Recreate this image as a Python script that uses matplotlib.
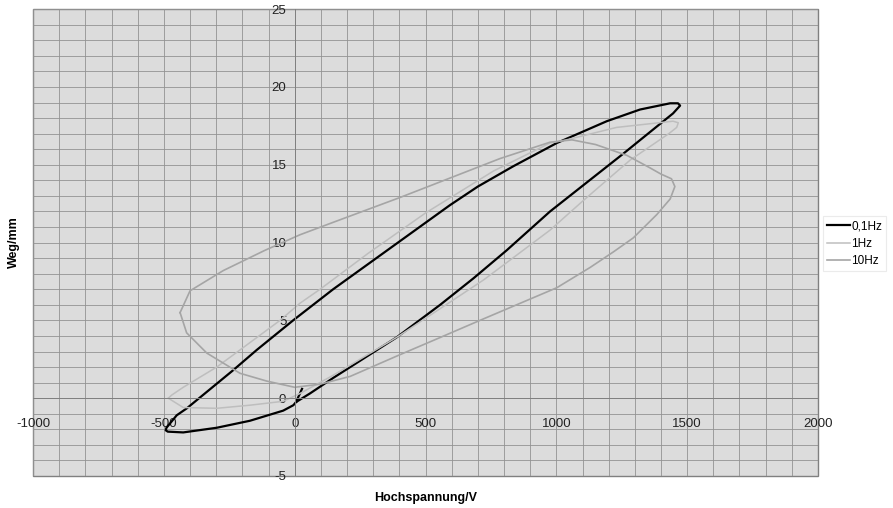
import matplotlib.pyplot as plt
import numpy as np

plt.rcParams['font.family'] = ['Liberation Sans', 'DejaVu Sans']

# 0,1Hz loop (black): hook at origin, rising branch, tip, falling branch
v_01 = [28, 5, 58, 147, 389, 556, 683, 810, 976, 1255, 1446, 1473,
        1465, 1435, 1320, 1193, 1002, 835, 700, 593, 403, 147, -6, -145, -235,
        -413, -451, -490, -493, -485, -426, -298, -171, -44, -5, 5]
s_01 = [0.6, -0.25, 0.3, 1.3, 3.9, 6.0, 7.7, 9.5, 12.0, 15.7, 18.3, 18.8,
        18.95, 18.95, 18.55, 17.8, 16.4, 14.9, 13.6, 12.4, 10.1, 7.0, 5.0, 3.1, 1.8,
        -0.66, -1.1, -1.9, -2.06, -2.15, -2.2, -1.9, -1.45, -0.8, -0.45, -0.25]

# 1Hz loop (light grey, narrow)
v_1 = [-483, -426, -298, -171, -44, 20, 150, 389, 722, 976, 1103, 1282, 1430,
       1460, 1466, 1446, 1230, 1039, 976, 760, 500, 280, 97, 20, -56, -209,
       -298, -426, -470, -483]
s_1 = [0.0, -0.6, -0.65, -0.45, -0.2, 0.3, 1.5, 3.9, 7.6, 10.8, 12.7, 15.3, 17.0,
       17.4, 17.7, 17.8, 17.4, 16.6, 16.4, 14.6, 11.9, 9.3, 7.0, 6.1, 5.0, 3.1,
       2.0, 0.7, 0.2, 0.0]

# 10Hz loop (grey, wide)
v_10 = [-438, -413, -336, -209, -107, 0, 97, 212, 403, 556, 708, 1002, 1129,
        1218, 1294, 1384, 1435, 1453, 1440, 1400, 1358, 1270, 1150, 1060, 976,
        785, 556, 403, 147, 20, -114, -273, -400, -438]
s_10 = [5.5, 4.2, 2.9, 1.6, 1.1, 0.7, 0.9, 1.4, 2.8, 3.9, 5.0, 7.1, 8.4,
        9.4, 10.3, 11.8, 12.8, 13.6, 14.1, 14.4, 14.8, 15.6, 16.3, 16.6, 16.45,
        15.4, 13.9, 12.9, 11.3, 10.5, 9.5, 8.2, 6.9, 5.5]

x_ticks = [-1000, -500, 0, 500, 1000, 1500, 2000]
y_ticks = [-5, 0, 5, 10, 15, 20, 25]

fig = plt.figure(figsize=(8.93, 5.08), dpi=100)
ax = fig.add_axes([0.037, 0.063, 0.879, 0.919])
ax.set_facecolor('#dcdcdc')
ax.patch.set_edgecolor('#808080')
ax.patch.set_linewidth(1.0)

ax.set_xlim(-1000, 2000)
ax.set_ylim(-5, 25)

# dense grid: 100 V / 1 mm
ax.set_xticks(np.arange(-1000, 2001, 100), minor=True)
ax.set_yticks(np.arange(-5, 26, 1), minor=True)
ax.grid(which='both', color='#929292', linewidth=0.6)
ax.set_axisbelow(True)

ax.set_xticks(x_ticks)
ax.set_yticks(y_ticks)
ax.set_xticklabels([str(t) for t in x_ticks])
ax.set_yticklabels([str(t) for t in y_ticks])
ax.tick_params(which='both', length=0, labelsize=9.5, colors='#222222')
ax.tick_params(axis='x', pad=14)
ax.tick_params(axis='y', pad=6)

# axes cross at zero
ax.spines['left'].set_position(('data', 0))
ax.spines['bottom'].set_position(('data', 0))
for side in ['left', 'bottom']:
    ax.spines[side].set_color('#808080')
    ax.spines[side].set_linewidth(0.7)
ax.spines['top'].set_visible(False)
ax.spines['right'].set_visible(False)

l1, = ax.plot(v_01, s_01, color='black', linewidth=1.6, label='0,1Hz')
l2, = ax.plot(v_1, s_1, color='#bebebe', linewidth=1.1, label='1Hz')
l3, = ax.plot(v_10, s_10, color='#a5a5a5', linewidth=1.2, label='10Hz')

fig.text(0.4765, 0.02, 'Hochspannung/V', ha='center', va='center',
         fontsize=9, fontweight='bold')
fig.text(0.016, 0.524, 'Weg/mm', ha='center', va='center', rotation=90,
         fontsize=9, fontweight='bold')

leg = fig.legend(handles=[l1, l2, l3], loc='center left',
                 bbox_to_anchor=(0.919, 0.52), fontsize=8.5, frameon=True,
                 fancybox=False, edgecolor='#e6e6e6', handlelength=1.9,
                 handletextpad=0.15, borderpad=0.35, borderaxespad=0.2,
                 labelspacing=0.45)
leg.get_frame().set_linewidth(0.8)

fig.savefig('out.png', dpi=100, facecolor='white')
